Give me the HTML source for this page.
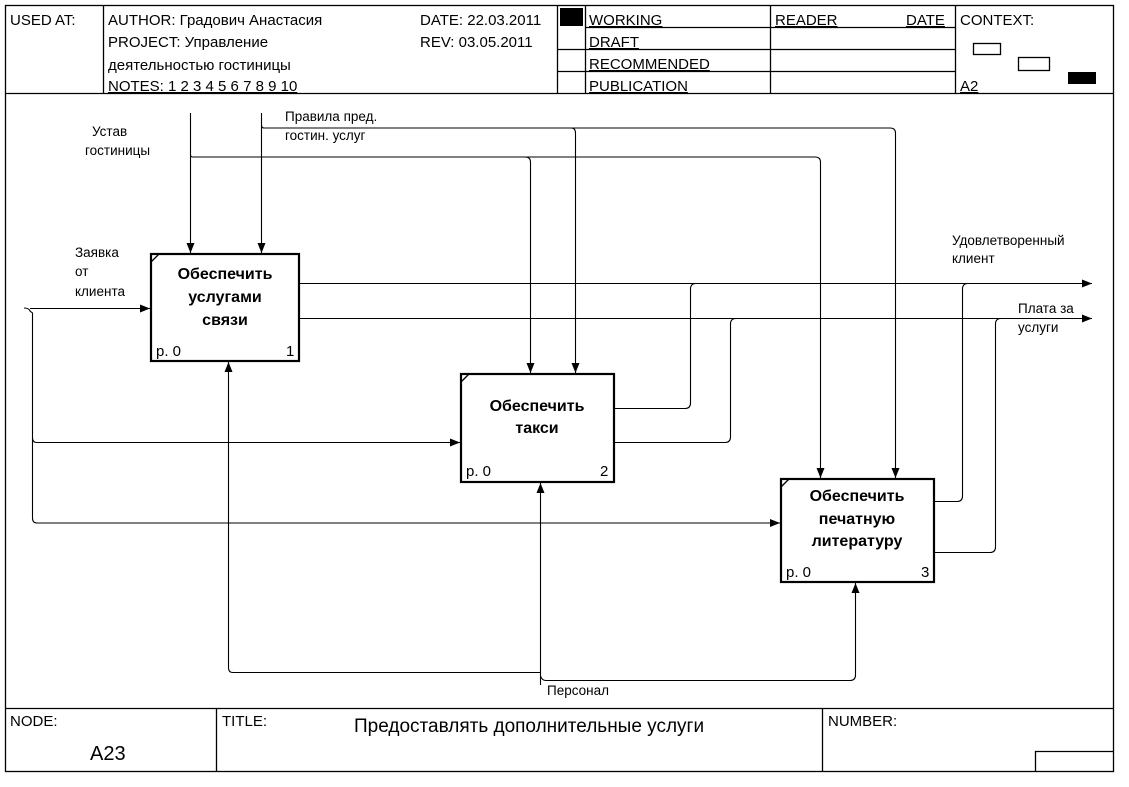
<!DOCTYPE html>
<html><head><meta charset="utf-8"><style>
html,body{margin:0;padding:0;background:#fff;}
svg{display:block;font-family:"Liberation Sans","DejaVu Sans",sans-serif;}
</style></head><body>
<svg width="1129" height="787" viewBox="0 0 1129 787" xmlns="http://www.w3.org/2000/svg">
<defs>
<marker id="a" markerWidth="10" markerHeight="8" refX="10" refY="4" orient="auto" markerUnits="userSpaceOnUse">
<path d="M0,0 L10,4 L0,8 z" fill="#000"/></marker>
</defs>
<rect x="0" y="0" width="1129" height="787" fill="#fff"/>
<!-- frame -->
<g stroke="#000" fill="none" stroke-width="1.3">
<rect x="5.5" y="5.5" width="1108" height="766"/>
<line x1="5" y1="93.5" x2="1113" y2="93.5"/>
<line x1="5" y1="708.5" x2="1113" y2="708.5"/>
<line x1="103.5" y1="5" x2="103.5" y2="93"/>
<line x1="557.5" y1="5" x2="557.5" y2="93"/>
<line x1="585.5" y1="5" x2="585.5" y2="93"/>
<line x1="770.5" y1="5" x2="770.5" y2="93"/>
<line x1="955.5" y1="5" x2="955.5" y2="93"/>
<line x1="585" y1="27.5" x2="955" y2="27.5"/>
<line x1="557" y1="49.5" x2="955" y2="49.5"/>
<line x1="557" y1="71.5" x2="955" y2="71.5"/>
<line x1="216.5" y1="708" x2="216.5" y2="771"/>
<line x1="822.5" y1="708" x2="822.5" y2="771"/>
<polyline points="1035.5,771 1035.5,751.5 1113,751.5"/>
<rect x="973.5" y="43.5" width="27" height="11"/>
<rect x="1018.5" y="57.5" width="31" height="13"/>
</g>
<rect x="560" y="8" width="23" height="18" fill="#000"/>
<rect x="1068" y="72" width="28" height="12" fill="#000"/>
<g font-size="15" fill="#000">
<text x="10" y="25">USED AT:</text>
<text x="108" y="25">AUTHOR: Градович Анастасия</text>
<text x="108" y="47">PROJECT: Управление</text>
<text x="108" y="70">деятельностью гостиницы</text>
<text x="108" y="91" text-decoration="underline">NOTES: 1 2 3 4 5 6 7 8 9 10</text>
<text x="420" y="25">DATE: 22.03.2011</text>
<text x="420" y="47">REV:    03.05.2011</text>
<text x="589" y="25" text-decoration="underline">WORKING</text>
<text x="589" y="47" text-decoration="underline">DRAFT</text>
<text x="589" y="69" text-decoration="underline">RECOMMENDED</text>
<text x="589" y="91" text-decoration="underline">PUBLICATION</text>
<text x="775" y="25" text-decoration="underline">READER</text>
<text x="906" y="25" text-decoration="underline">DATE</text>
<text x="960" y="25">CONTEXT:</text>
<text x="960" y="91" text-decoration="underline">A2</text>
<text x="10" y="726">NODE:</text>
<text x="222" y="726">TITLE:</text>
<text x="828" y="726">NUMBER:</text>
<text x="90" y="760" font-size="20">A23</text>
<text x="354" y="732" font-size="19">Предоставлять  дополнительные  услуги</text>
</g>
<!-- boxes -->
<g stroke="#000" stroke-width="2.2" fill="#fff">
<rect x="151" y="254" width="148" height="107"/>
<rect x="461" y="374" width="153" height="108"/>
<rect x="781" y="479" width="153" height="103"/>
</g>
<g stroke="#000" stroke-width="1.3">
<line x1="151" y1="262" x2="159" y2="254"/>
<line x1="461" y1="382" x2="469" y2="374"/>
<line x1="781" y1="487" x2="789" y2="479"/>
</g>
<g font-size="16" font-weight="bold" text-anchor="middle">
<text x="225" y="279">Обеспечить</text>
<text x="225" y="302">услугами</text>
<text x="225" y="325">связи</text>
<text x="537" y="411">Обеспечить</text>
<text x="537" y="433">такси</text>
<text x="857" y="501">Обеспечить</text>
<text x="857" y="524">печатную</text>
<text x="857" y="546">литературу</text>
</g>
<g font-size="15">
<text x="156" y="356">р. 0</text><text x="286" y="356">1</text>
<text x="466" y="476">р. 0</text><text x="600" y="476">2</text>
<text x="786" y="577">р. 0</text><text x="921" y="577">3</text>
</g>
<!-- arrows -->
<g stroke="#000" stroke-width="1.1" fill="none">
<line x1="190.5" y1="113" x2="190.5" y2="253" marker-end="url(#a)"/>
<path d="M190.5,155 Q190.5,157 193,157 L815,157 Q820.5,157 820.5,162 L820.5,478" marker-end="url(#a)"/>
<path d="M525,157 Q530.5,157 530.5,162 L530.5,373" marker-end="url(#a)"/>
<line x1="261.5" y1="113" x2="261.5" y2="253" marker-end="url(#a)"/>
<path d="M261.5,125 Q261.5,128 264,128 L890,128 Q895.5,128 895.5,133 L895.5,478" marker-end="url(#a)"/>
<path d="M571,128 Q575.5,128 575.5,133 L575.5,373" marker-end="url(#a)"/>
<path d="M24,308 Q29,308 30,311 L32.5,313 L32.5,518 Q32.5,523 37,523 L780,523" marker-end="url(#a)"/>
<line x1="30" y1="308.5" x2="150" y2="308.5" marker-end="url(#a)"/>
<path d="M32.5,438 Q32.5,442.5 37,442.5 L460,442.5" marker-end="url(#a)"/>
<line x1="299" y1="283.5" x2="1092" y2="283.5" marker-end="url(#a)"/>
<line x1="299" y1="318.5" x2="1092" y2="318.5" marker-end="url(#a)"/>
<path d="M614,408.5 L685,408.5 Q690.5,408.5 690.5,403 L690.5,289 Q690.5,283.5 696,283.5"/>
<path d="M614,442.5 L725,442.5 Q730.5,442.5 730.5,437 L730.5,324 Q730.5,318.5 736,318.5"/>
<path d="M934,501.5 L957,501.5 Q962.5,501.5 962.5,496 L962.5,289 Q962.5,283.5 968,283.5"/>
<path d="M934,552.5 L990,552.5 Q995.5,552.5 995.5,547 L995.5,324 Q995.5,318.5 1001,318.5"/>
<path d="M540.5,672.5 L233,672.5 Q228.5,672.5 228.5,668 L228.5,362" marker-end="url(#a)"/>
<line x1="540.5" y1="685" x2="540.5" y2="483" marker-end="url(#a)"/>
<path d="M540.5,676 Q542,680.5 546,680.5 L850,680.5 Q855.5,680.5 855.5,675 L855.5,583" marker-end="url(#a)"/>
</g>
<g font-size="13.5" fill="#000">
<text x="92" y="136">Устав</text>
<text x="85" y="155">гостиницы</text>
<text x="285" y="121">Правила пред.</text>
<text x="285" y="140">гостин. услуг</text>
<text x="75" y="257">Заявка</text>
<text x="75" y="276">от</text>
<text x="75" y="296">клиента</text>
<text x="952" y="245">Удовлетворенный</text>
<text x="952" y="263">клиент</text>
<text x="1018" y="313">Плата за</text>
<text x="1018" y="332">услуги</text>
<text x="547" y="695">Персонал</text>
</g>
</svg>
</body></html>
